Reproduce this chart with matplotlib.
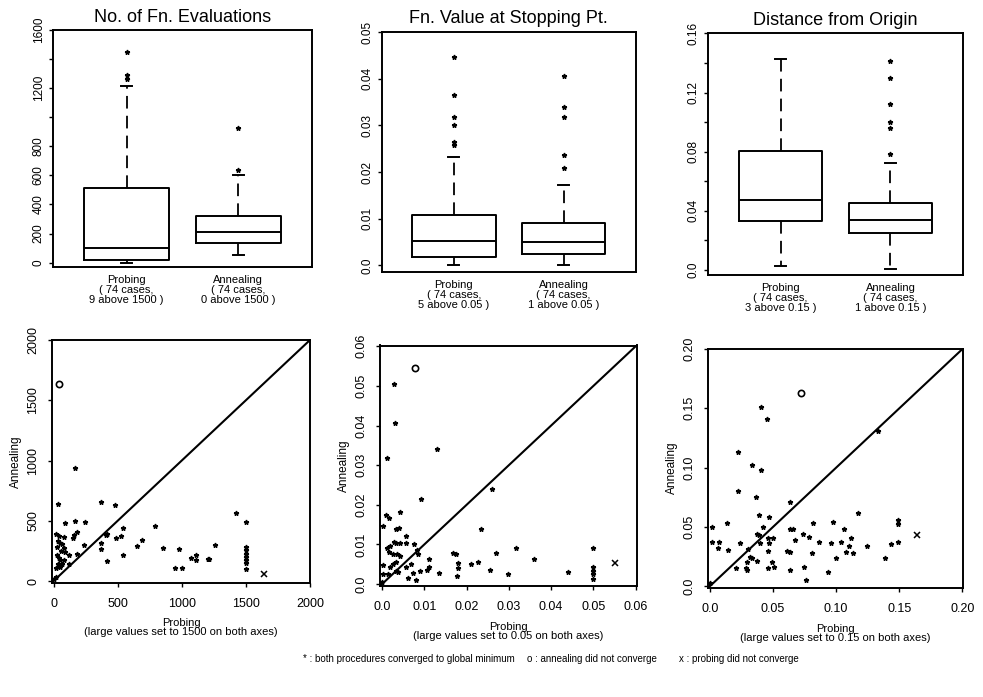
import numpy as np
import matplotlib
matplotlib.use("Agg")
import matplotlib.pyplot as plt

plt.rcParams['font.family'] = ['Liberation Sans', 'DejaVu Sans']

# ---- box plot summaries (whisker low, Q1, median, Q3, whisker high, outliers)
titles = ["No. of Fn. Evaluations", "Fn. Value at Stopping Pt.", "Distance from Origin"]
groups = ["Probing", "Annealing"]
cases = [74, 74]
above_counts = [[9, 0], [5, 1], [3, 1]]
cutoffs = ["1500", "0.05", "0.15"]

evals_probing = [0, 20, 100, 512, 1215]
evals_probing_out = [1265, 1290, 1450]
evals_annealing = [50, 136, 210, 319, 600]
evals_annealing_out = [639, 929]

fval_probing = [0.0, 0.0019, 0.0053, 0.0109, 0.0232]
fval_probing_out = [0.0257, 0.0265, 0.030, 0.0318, 0.0364, 0.0446]
fval_annealing = [0.0, 0.0025, 0.005, 0.009, 0.0173]
fval_annealing_out = [0.0209, 0.0237, 0.0318, 0.034, 0.0405]

dist_probing = [0.0027, 0.0328, 0.0475, 0.0802, 0.1428]
dist_probing_out = []
dist_annealing = [0.0005, 0.0253, 0.0339, 0.0452, 0.0723]
dist_annealing_out = [0.0786, 0.096, 0.0999, 0.1123, 0.13, 0.1412]

box_yticks = [np.arange(0, 1601, 200), np.arange(0, 0.0501, 0.01), np.arange(0, 0.161, 0.02)]
box_ylabels = [["0", "200", "400", "600", "800", "", "1200", "", "1600"],
               ["0.0", "0.01", "0.02", "0.03", "0.04", "0.05"],
               ["0.0", "", "0.04", "", "0.08", "", "0.12", "", "0.16"]]
box_ylims = [(-30, 1590), (-0.0013, 0.0501), (-0.0034, 0.1603)]

# ---- scatter data (probing vs annealing), "*" = both converged
evals_x = [171, 373, 477, 36, 1422, 1500, 88, 171, 249, 539, 793, 80, 158, 150, 186, 238,
           370, 409, 417, 487, 528, 370, 650, 689, 852, 979, 1259, 539, 420, 1072, 1111,
           1111, 1202, 1215, 948, 1000, 1500, 1500, 1500, 1500, 1500, 1500, 1500, 21, 41,
           54, 67, 28, 80, 62, 93, 124, 26, 41, 54, 80, 36, 67, 124, 181, 16, 54, 0, 16, 36]
evals_y = [939, 653, 631, 639, 564, 492, 478, 500, 494, 444, 458, 367, 383, 356, 408, 300,
           319, 383, 389, 358, 375, 269, 289, 339, 272, 264, 300, 217, 167, 194, 214,
           172, 186, 186, 106, 106, 283, 256, 228, 200, 172, 150, 97, 394, 375,
           319, 311, 283, 278, 250, 244, 217, 217, 194, 178, 172, 139, 144, 144, 222, 111, 119, 14, 33, 333]
evals_o = (41, 1639)
evals_xfail = (1642, 61)

fval_x = [0.0027, 0.0031, 0.0011, 0.0129, 0.0093, 0.0259, 0.0009, 0.0017, 0.0042, 0.0001, 0.0033,
          0.0039, 0.0056, 0.0029, 0.0033, 0.0056, 0.0075, 0.0233, 0.0011, 0.0019, 0.0083, 0.0017,
          0.0035, 0.0043, 0.0167, 0.0174, 0.0269, 0.0317, 0.036, 0.05, 0.011, 0.018, 0.018, 0.0178,
          0.0211, 0.0227, 0.0256, 0.0299, 0.0441, 0.05, 0.05, 0.05, 0.05, 0.0134, 0.0106, 0.011,
          0.0001, 0.0019, 0.0025, 0.0033, 0.0013, 0.0001, 0.0033, 0.0037, 0.0056, 0.0069, 0.0072,
          0.0061, 0.008, 0.0089, 0.0, 0.0043, 0.0084, 0.0025]
fval_y = [0.0506, 0.0406, 0.0319, 0.034, 0.0214, 0.0239, 0.0175, 0.0167, 0.0181, 0.0147, 0.0139,
          0.0141, 0.0121, 0.0107, 0.0103, 0.0103, 0.01, 0.0139, 0.0092, 0.0097, 0.0087, 0.0081,
          0.0077, 0.0071, 0.0079, 0.0075, 0.0079, 0.009, 0.0062, 0.0092, 0.0062, 0.0053, 0.0041, 0.0019,
          0.0051, 0.0056, 0.0036, 0.0026, 0.003, 0.0043, 0.0034, 0.0026, 0.0013, 0.0027, 0.0036, 0.0044,
          0.0049, 0.0044, 0.0051, 0.0056, 0.0026, 0.0026, 0.0034, 0.003, 0.0043, 0.0051, 0.0027,
          0.0015, 0.0009, 0.0032, 0.0004, 0.0104, 0.0075, 0.0077]
fval_o = (0.0079, 0.0545)
fval_xfail = (0.0551, 0.0053)

dist_x = [0.0404, 0.0452, 0.133, 0.0226, 0.0332, 0.0404, 0.0221, 0.0367, 0.0638, 0.117, 0.0386,
          0.0465, 0.0133, 0.0816, 0.0979, 0.1489, 0.1489, 0.0013, 0.0418, 0.0638, 0.0657, 0.1064,
          0.0372, 0.0391, 0.0739, 0.0785, 0.0673, 0.0497, 0.046, 0.1117, 0.0013, 0.0072, 0.0239,
          0.0399, 0.0465, 0.0864, 0.0963, 0.1037, 0.1431, 0.1489, 0.0066, 0.0141, 0.0301, 0.0457,
          0.1098, 0.1077, 0.113, 0.1245, 0.0612, 0.0638, 0.0811, 0.0319, 0.0332, 0.0997, 0.1391,
          0.0372, 0.0492, 0.0293, 0.0511, 0.0745, 0.0205, 0.0287, 0.0293, 0.0457, 0.0638, 0.0936,
          0.0758, 0.0]
dist_y = [0.1514, 0.1413, 0.1309, 0.1132, 0.102, 0.098, 0.0803, 0.0756, 0.0711, 0.0621, 0.0601,
          0.0584, 0.0537, 0.0537, 0.0542, 0.0559, 0.0522, 0.05, 0.05, 0.048, 0.048, 0.0486,
          0.0438, 0.043, 0.0438, 0.0419, 0.039, 0.041, 0.041, 0.041, 0.0376, 0.0376, 0.0368,
          0.0368, 0.0368, 0.0374, 0.0362, 0.0374, 0.0354, 0.0374, 0.0326, 0.0306, 0.0312, 0.0298,
          0.034, 0.0289, 0.0284, 0.034, 0.0298, 0.0292, 0.0278, 0.0247, 0.0242, 0.0242, 0.0242,
          0.0213, 0.0208, 0.0205, 0.0166, 0.0166, 0.0152, 0.0157, 0.0138, 0.0152, 0.0138, 0.0121,
          0.0053, 0.0025]
dist_o = (0.0723, 0.1632)
dist_xfail = (0.1644, 0.0433)

sc_ticks = [[0, 500, 1000, 1500, 2000], [0, 0.01, 0.02, 0.03, 0.04, 0.05, 0.06],
            [0, 0.05, 0.10, 0.15, 0.20]]
sc_labels = [["0", "500", "1000", "1500", "2000"],
             ["0.0", "0.01", "0.02", "0.03", "0.04", "0.05", "0.06"],
             ["0.0", "0.05", "0.10", "0.15", "0.20"]]
sc_lims = [(-12, 2000), (-0.0005, 0.0602), (-0.0015, 0.2005)]

# ---- layout (pixel boxes: left, right, top, bottom)
W, H = 983, 697
box_px = [(53, 312, 30, 267), (381.5, 636, 31.5, 271.5), (708, 963, 33, 275)]
sc_px = [(52, 310, 340, 582.5), (380, 636.5, 345.5, 586), (708, 963, 348.5, 588)]


def add_axes(fig, px):
    l, r, t, b = px
    return fig.add_axes([l / W, 1 - b / H, (r - l) / W, (b - t) / H])


def style(ax):
    for s in ax.spines.values():
        s.set_linewidth(1.4)
    ax.tick_params(direction='out', length=3, width=1, labelsize=8.5, pad=3)


fig = plt.figure(figsize=(W / 100, H / 100), dpi=100)

box_data = [(evals_probing, evals_probing_out, evals_annealing, evals_annealing_out),
            (fval_probing, fval_probing_out, fval_annealing, fval_annealing_out),
            (dist_probing, dist_probing_out, dist_annealing, dist_annealing_out)]

for i in range(3):
    ax = add_axes(fig, box_px[i])
    style(ax)
    p, po, a, ao = box_data[i]
    stats = []
    for vals, out, name in [(p, po, groups[0]), (a, ao, groups[1])]:
        stats.append(dict(whislo=vals[0], q1=vals[1], med=vals[2], q3=vals[3],
                          whishi=vals[4], fliers=out, label=name))
    ax.bxp(stats, positions=[1, 2], widths=0.76, capwidths=0.1, showfliers=True,
           boxprops=dict(color='black', linewidth=1.4),
           medianprops=dict(color='black', linewidth=1.4),
           whiskerprops=dict(color='black', linewidth=1.3, linestyle=(0, (7, 4))),
           capprops=dict(color='black', linewidth=1.4),
           flierprops=dict(marker='*', markersize=3.5, markerfacecolor='black',
                           markeredgecolor='black', linestyle='none'))
    ax.set_xlim(0.34, 2.66)
    ax.set_ylim(*box_ylims[i])
    ax.set_yticks(box_yticks[i])
    ax.set_yticklabels(box_ylabels[i], rotation=90, va='center')
    ax.set_xticks([1, 2])
    ax.set_xticklabels(["%s\n( %d cases,\n%d above %s )" % (groups[k], cases[k],
                                                             above_counts[i][k], cutoffs[i])
                        for k in range(2)], fontsize=8, linespacing=1.0)
    ax.tick_params(axis='x', length=0, pad=6)
    ax.set_title(titles[i], fontsize=13, pad=6)

sc_data = [(evals_x, evals_y, evals_o, evals_xfail),
           (fval_x, fval_y, fval_o, fval_xfail),
           (dist_x, dist_y, dist_o, dist_xfail)]

for i in range(3):
    ax = add_axes(fig, sc_px[i])
    style(ax)
    xs, ys, o_pt, x_pt = sc_data[i]
    ax.axline((0, 0), slope=1, color='black', linewidth=1.5)
    ax.plot(xs, ys, linestyle='none', marker='*', markersize=3.5, color='black')
    ax.plot([o_pt[0]], [o_pt[1]], linestyle='none', marker='o', markersize=4.5,
            markerfacecolor='none', markeredgecolor='black', markeredgewidth=1.2)
    ax.plot([x_pt[0]], [x_pt[1]], linestyle='none', marker='x', markersize=4.5,
            color='black', markeredgewidth=1.1)
    ax.set_xlim(*sc_lims[i])
    ax.set_ylim(*sc_lims[i])
    ax.set_xticks(sc_ticks[i])
    ax.set_xticklabels(sc_labels[i], fontsize=9)
    ax.set_yticks(sc_ticks[i])
    ax.set_yticklabels(sc_labels[i], rotation=90, va='center', fontsize=9)
    ax.tick_params(axis='x', pad=8)
    ax.tick_params(axis='y', pad=6)
    ax.set_xlabel("Probing\n(large values set to %s on both axes)" % cutoffs[i],
                  fontsize=8, linespacing=0.9, labelpad=6)
    ax.set_ylabel("Annealing", fontsize=8.5, labelpad=4)

footer = ["* : both procedures converged to global minimum",
          "o : annealing did not converge",
          "x : probing did not converge"]
footer_x = [303, 527, 679]
for txt, fx in zip(footer, footer_x):
    fig.text(fx / W, 1 - 659 / H, txt, fontsize=7, ha='left', va='center')

fig.savefig("out.png", dpi=100)
